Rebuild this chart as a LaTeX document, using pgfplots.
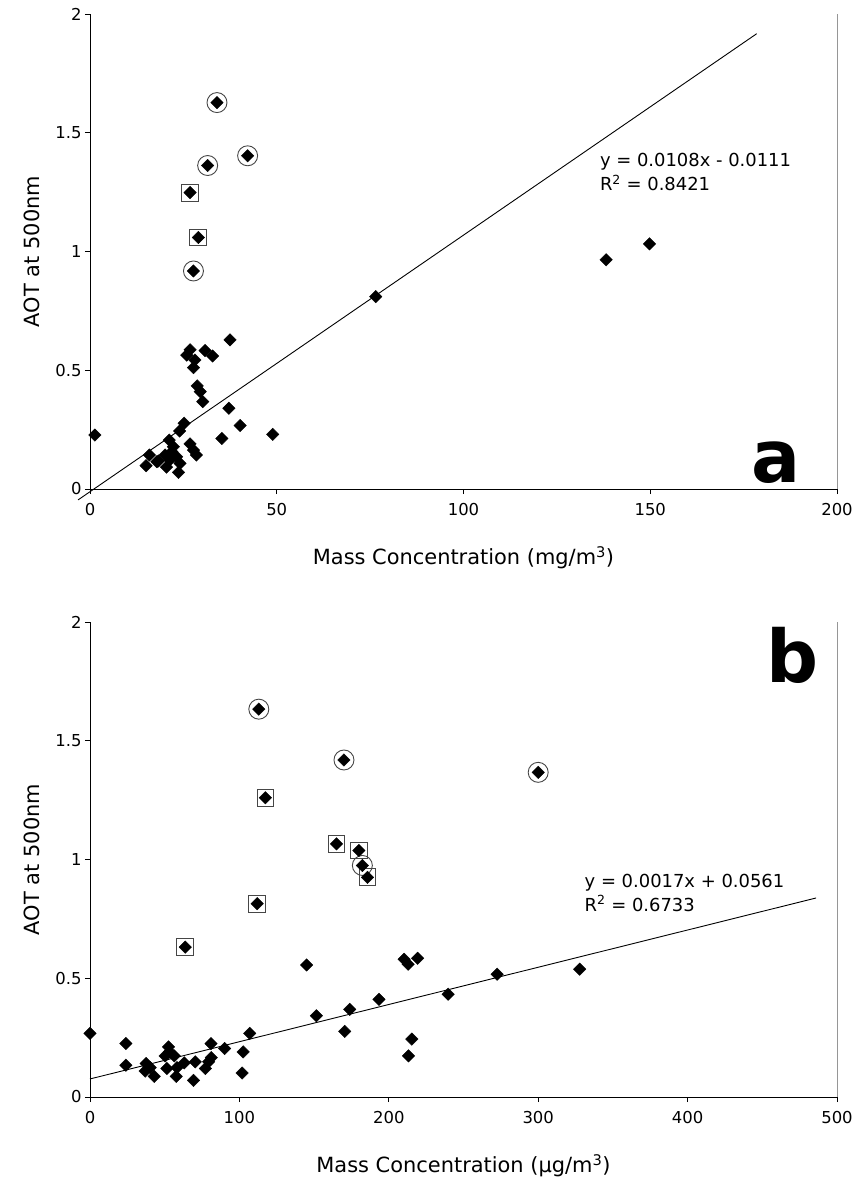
\documentclass[border=0pt]{standalone}
\usepackage{fontspec}
\setmainfont{DejaVu Sans}
\usepackage{pgfplots}
\pgfplotsset{compat=1.18}
\definecolor{RingGray}{RGB}{70,70,70}
\definecolor{FrameGray}{RGB}{150,150,150}

\pgfplotsset{
  excelaxis/.style={
    scale only axis,
    width=747bp,
    height=475bp,
    axis lines*=left,
    axis line style={black, line width=0.8bp},
    tick align=outside,
    major tick length=5bp,
    tick style={black, line width=0.8bp},
    ymin=0, ymax=2,
    ytick={0,0.5,1,1.5,2},
    yticklabels={0,0.5,1,1.5,2},
    /pgf/number format/assume math mode=true,
    tick label style={font=\fontsize{16.5}{18}\selectfont},
    xticklabel style={yshift=-6bp},
    label style={font=\fontsize{21}{24}\selectfont},
    ylabel={AOT at 500nm},
    x label style={at={(axis description cs:0.5,-0.145)}, anchor=center},
    y label style={at={(axis description cs:-0.078,0.5)}, anchor=center},
    clip=false,
  },
  dots/.style={only marks, mark=square*, mark size=4.4bp,
    mark options={rotate=45, fill=black, draw=black}},
  rings/.style={only marks, mark=o, mark size=10bp,
    mark options={draw=RingGray, line width=0.9bp, fill=none}},
  boxes/.style={only marks, mark=square, mark size=8.4bp,
    mark options={draw=RingGray, line width=0.9bp, fill=none}},
}

\begin{document}
\begin{tikzpicture}
\path[use as bounding box] (-90bp,-690bp) rectangle (769bp,489bp);

% panel a
\begin{axis}[excelaxis, at={(0,0)}, anchor=south west,
    xmin=0, xmax=200, xtick={0,50,100,150,200},
    xlabel={Mass Concentration (mg/m\textsuperscript{3})}]
\draw[FrameGray, line width=0.8bp] (rel axis cs:1,0) -- (rel axis cs:1,1);
\addplot[rings] coordinates {(34.0,1.627) (42.2,1.403) (31.5,1.362) (27.7,0.918)};
\addplot[boxes] coordinates {(26.8,1.248) (29.0,1.059)};
\addplot[black, line width=0.9bp] coordinates {(-3.2,-0.046) (178.5,1.917)};
\addplot[dots] coordinates {
  (1.3,0.227) (15.0,0.098) (15.9,0.143) (17.9,0.115) (18.3,0.118)
  (20.1,0.143) (20.5,0.092) (21.2,0.206) (21.4,0.122) (21.9,0.157)
  (22.3,0.178) (23.2,0.136) (23.7,0.070) (24.1,0.108) (24.0,0.244)
  (25.2,0.277) (26.8,0.190) (27.7,0.164) (28.5,0.143) (26.8,0.586)
  (25.9,0.564) (28.1,0.543) (27.7,0.511) (30.8,0.583) (32.8,0.560)
  (28.7,0.434) (29.5,0.410) (30.2,0.368) (37.5,0.628) (37.2,0.340)
  (40.2,0.267) (35.3,0.213) (48.9,0.230) (76.5,0.810) (138.2,0.965)
  (149.8,1.032)
  (34.0,1.627) (42.2,1.403) (31.5,1.362) (27.7,0.918)
  (26.8,1.248) (29.0,1.059)
};
\node[anchor=west, font=\fontsize{18}{22}\selectfont, align=left, inner sep=0pt]
  at (axis cs:136.5,1.335) {y = 0.0108x - 0.0111\\[2bp]R\textsuperscript{2} = 0.8421};
\node[font=\fontsize{73}{73}\selectfont\bfseries, inner sep=0pt]
  at (axis cs:183.8,0.11) {a};
\end{axis}

% panel b
\begin{axis}[excelaxis, at={(0,-608bp)}, anchor=south west,
    xmin=0, xmax=500, xtick={0,100,200,300,400,500},
    xlabel={Mass Concentration (μg/m\textsuperscript{3})}]
\draw[FrameGray, line width=0.8bp] (rel axis cs:1,0) -- (rel axis cs:1,1);
\addplot[rings] coordinates {(113.0,1.633) (170.0,1.419) (300.0,1.367) (182.3,0.975)};
\addplot[boxes] coordinates {(117.4,1.260) (165.0,1.066) (180.0,1.038)
  (185.7,0.925) (111.9,0.814) (63.8,0.631)};
\addplot[black, line width=0.9bp] coordinates {(0,0.076) (486,0.838)};
\addplot[dots] coordinates {
  (0,0.268) (24,0.225) (24,0.134) (37.6,0.141) (36.9,0.109)
  (40.3,0.124) (43,0.087) (52.6,0.211) (53.2,0.190) (50.3,0.173)
  (56.4,0.173) (51.5,0.120) (57.7,0.087) (58.2,0.124) (63.1,0.144)
  (70.5,0.148) (69.3,0.070) (77.2,0.120) (79.4,0.148) (81.2,0.166)
  (81,0.225) (90.1,0.204) (106.9,0.268) (102.5,0.190) (101.8,0.101)
  (145,0.556) (151.5,0.342) (173.8,0.369) (170.5,0.276) (193.4,0.411)
  (210.3,0.580) (213,0.559) (219.3,0.584) (215.4,0.244) (213.2,0.173)
  (239.7,0.433) (272.5,0.517) (327.8,0.538)
  (113.0,1.633) (170.0,1.419) (300.0,1.367) (182.3,0.975)
  (117.4,1.260) (165.0,1.066) (180.0,1.038) (185.7,0.925)
  (111.9,0.814) (63.8,0.631)
};
\node[anchor=west, font=\fontsize{18}{22}\selectfont, align=left, inner sep=0pt]
  at (axis cs:331,0.86) {y = 0.0017x + 0.0561\\[2bp]R\textsuperscript{2} = 0.6733};
\node[font=\fontsize{73}{73}\selectfont\bfseries, inner sep=0pt]
  at (axis cs:470,1.86) {b};
\end{axis}
\end{tikzpicture}
\end{document}
